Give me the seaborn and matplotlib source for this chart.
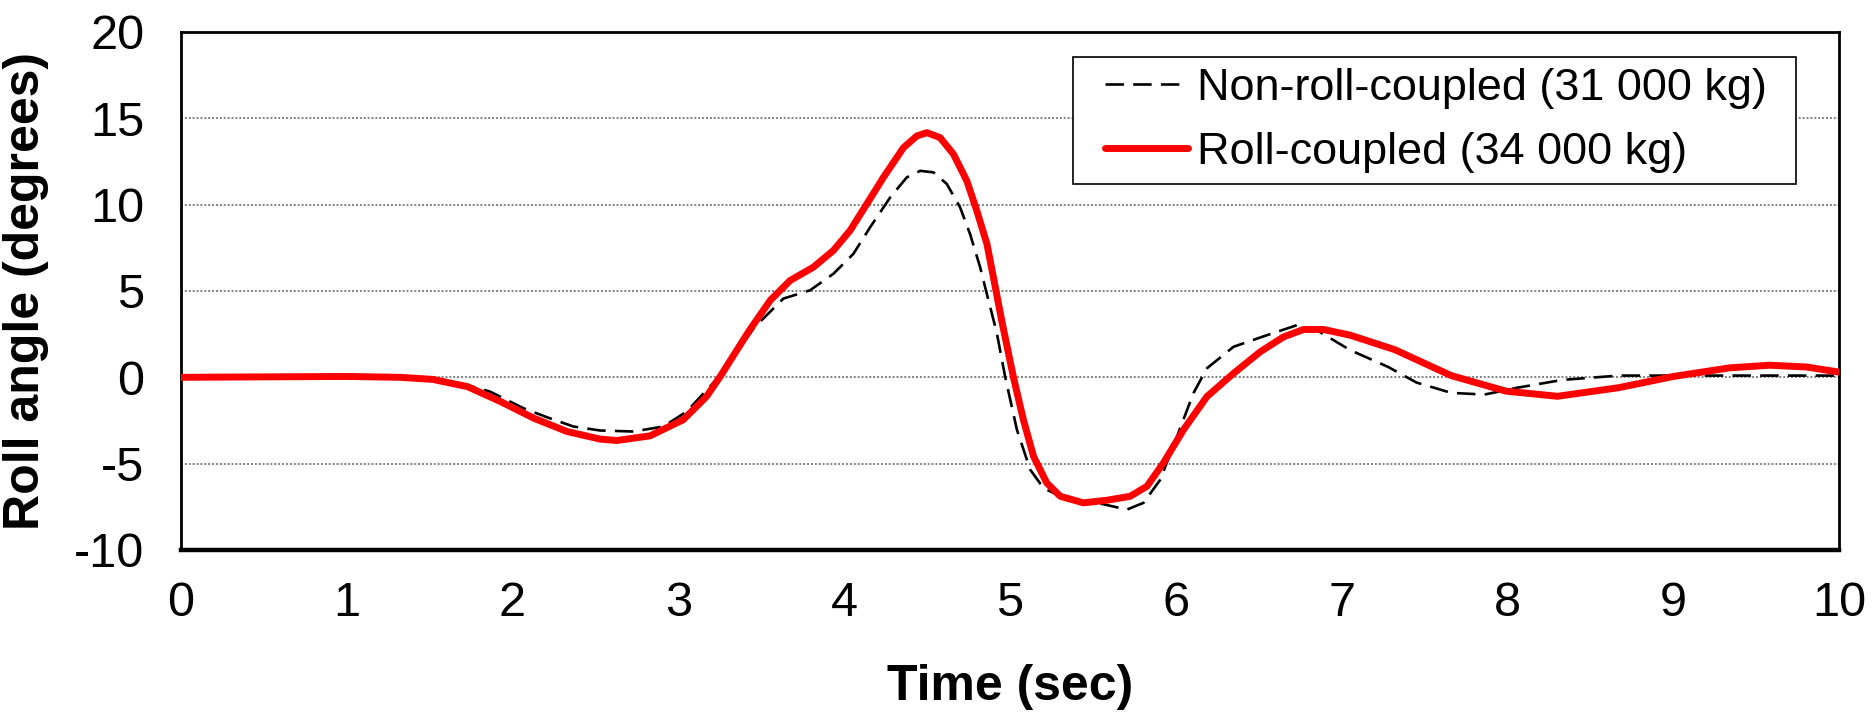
import matplotlib
matplotlib.use("Agg")
import matplotlib.pyplot as plt
from matplotlib.lines import Line2D
from matplotlib.legend_handler import HandlerLine2D
import numpy as np
import seaborn as sns
import pandas as pd

# ---- data ----
time_noncoupled = [0, 1.52, 1.725, 1.866, 2.067, 2.208, 2.368, 2.529, 2.73, 2.911, 3.052,
                   3.172, 3.243, 3.46, 3.634, 3.795, 3.936, 4.056, 4.157, 4.278, 4.378,
                   4.459, 4.539, 4.619, 4.699, 4.759, 4.82, 4.86, 4.92, 4.971, 5.042,
                   5.122, 5.202, 5.343, 5.544, 5.705, 5.805, 5.906, 6.007, 6.106, 6.187,
                   6.348, 6.549, 6.73, 6.85, 7.05, 7.28, 7.45, 7.66, 7.86, 8.06, 8.33,
                   8.67, 10.0]
roll_noncoupled = [0, -0.06, -0.44, -0.83, -1.79, -2.31, -2.85, -3.08, -3.14, -2.85, -1.98,
                   -0.73, 0, 2.9, 4.56, 5.04, 6.0, 7.15, 8.69, 10.42, 11.58,
                   11.96, 11.87, 11.2, 9.85, 8.31, 6.38, 4.85, 2.6, 0.03, -3.04,
                   -5.35, -6.41, -7.08, -7.31, -7.66, -7.27, -5.93, -3.43, -0.92, 0.52,
                   1.77, 2.44, 3.02, 2.73, 1.58, 0.6, -0.3, -0.9, -1.0, -0.6, -0.15,
                   0.1, 0.1]

time_coupled = [0, 1.0, 1.32, 1.52, 1.73, 1.93, 2.13, 2.33, 2.53, 2.63, 2.83, 3.03, 3.17,
                3.25, 3.43, 3.555, 3.675, 3.815, 3.936, 4.036, 4.137, 4.237, 4.358,
                4.439, 4.499, 4.579, 4.659, 4.74, 4.80, 4.861, 4.90, 4.95, 5.021,
                5.081, 5.142, 5.222, 5.303, 5.443, 5.584, 5.725, 5.826, 5.925, 6.046,
                6.187, 6.348, 6.509, 6.649, 6.77, 6.89, 7.051, 7.32, 7.66, 7.99, 8.3,
                8.67, 9.0, 9.34, 9.58, 9.8, 10.0]
roll_coupled = [0, 0.05, 0, -0.12, -0.54, -1.41, -2.37, -3.14, -3.58, -3.66, -3.39, -2.46,
                -1.12, 0, 2.73, 4.46, 5.61, 6.38, 7.35, 8.5, 10.04, 11.58, 13.3,
                13.98, 14.17, 13.88, 12.93, 11.38, 9.65, 7.73, 5.8, 3.3, 0.0,
                -2.46, -4.58, -6.12, -6.89, -7.27, -7.12, -6.89, -6.31, -4.96, -3.04,
                -1.12, 0.23, 1.48, 2.34, 2.77, 2.77, 2.44, 1.6, 0.1, -0.8, -1.1,
                -0.6, 0.05, 0.55, 0.7, 0.6, 0.3]

series_labels = ["Non-roll-coupled (31 000 kg)", "Roll-coupled (34 000 kg)"]
x_ticks = list(range(0, 11))
y_ticks = [-10, -5, 0, 5, 10, 15, 20]
x_label = "Time (sec)"
y_label = "Roll angle (degrees)"

sns.set_theme(style="white")
plt.rcParams["font.family"] = ["Liberation Sans", "DejaVu Sans"]
plt.rcParams["axes.unicode_minus"] = False
for k in ["text.color", "axes.labelcolor", "xtick.color", "ytick.color"]:
    plt.rcParams[k] = "black"


class PaddedLine(HandlerLine2D):
    """Legend line handler that leaves a left gap before the sample line."""
    def __init__(self, lpad, **kw):
        super().__init__(**kw)
        self.lpad = lpad

    def get_xdata(self, legend, xdescent, ydescent, width, height, fontsize):
        xdata, xm = super().get_xdata(legend, xdescent, ydescent, width, height, fontsize)
        xdata = np.asarray(xdata, dtype=float)
        xdata[0] = xdata[0] + self.lpad * fontsize
        return xdata, xm


df_nc = pd.DataFrame({"t": time_noncoupled, "roll": roll_noncoupled})
df_c = pd.DataFrame({"t": time_coupled, "roll": roll_coupled})

fig = plt.figure(figsize=(18.75, 7.27), dpi=100)
ax = fig.add_axes([0.0963, 0.2435, 0.8847, 0.7125])

# gridlines
for yv in y_ticks[1:-1]:
    ax.axhline(yv, color="#808080", lw=1.4, ls=(0, (1, 1)), zorder=0)

sns.lineplot(data=df_nc, x="t", y="roll", ax=ax, color="black", lw=1.9,
             label=series_labels[0], zorder=3)
ax.lines[-1].set_linestyle((0, (7, 3.5)))
sns.lineplot(data=df_c, x="t", y="roll", ax=ax, color="#ff0000", lw=5,
             label=series_labels[1], zorder=4)

ax.set_xlim(0, 10)
ax.set_ylim(-10, 20)
ax.set_xticks(x_ticks)
ax.set_yticks(y_ticks)
ax.tick_params(axis="both", labelsize=35, direction="out", length=12, width=1.2,
               labelcolor="black")
ax.tick_params(axis="x", pad=10, color="black")
ax.tick_params(axis="y", pad=14, color="#666666")

ax.set_xlabel(x_label, fontsize=36, fontweight="bold", labelpad=28, color="black")
ax.set_ylabel(y_label, fontsize=36, fontweight="bold", labelpad=18, color="black")

for side in ["left", "right", "top"]:
    ax.spines[side].set_color("black")
    ax.spines[side].set_linewidth(2.0)
ax.spines["bottom"].set_color("black")
ax.spines["bottom"].set_linewidth(3.2)
for s in ax.spines.values():
    s.set_visible(True)

leg = ax.legend(loc="upper left", bbox_to_anchor=(0.5381, 0.699, 0.436, 0.253),
                mode="expand", borderaxespad=0,
                fontsize=32.4, frameon=True, fancybox=False, shadow=False,
                handlelength=2.32, handletextpad=0.2, labelspacing=0.52,
                borderpad=0.24, handler_map={Line2D: PaddedLine(0.467)})
leg.get_frame().set_edgecolor("black")
leg.get_frame().set_linewidth(1.2)
leg.get_frame().set_alpha(1)

fig.savefig("out.png", dpi=100, facecolor="white")
